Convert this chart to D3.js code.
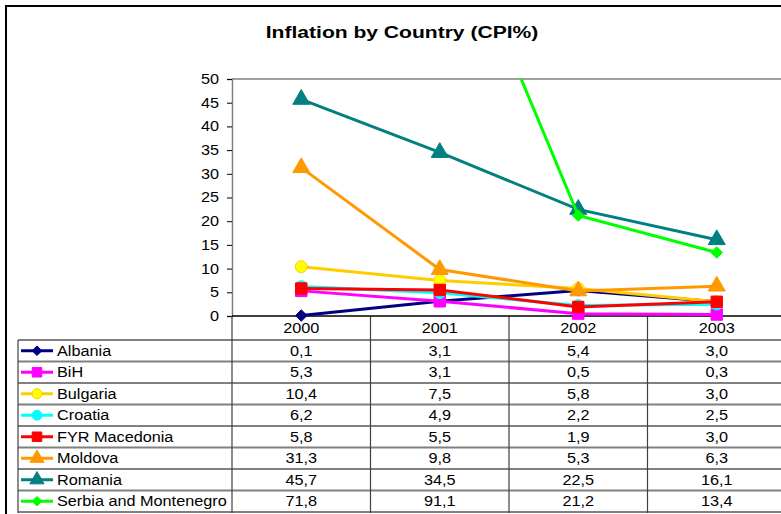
<!DOCTYPE html>
<html>
<head>
<meta charset="utf-8">
<script src="https://cdn.jsdelivr.net/npm/d3@7"></script>
<style>
  body { margin: 0; background: #fff; }
  svg { display: block; font-family: Arial, "Liberation Sans", sans-serif; }
</style>
</head>
<body>
<script>
// data
var years = ['2000', '2001', '2002', '2003'];
var countries = ['Albania', 'BiH', 'Bulgaria', 'Croatia', 'FYR Macedonia', 'Moldova', 'Romania', 'Serbia and Montenegro'];
var albania = [0.1, 3.1, 5.4, 3.0];
var bih = [5.3, 3.1, 0.5, 0.3];
var bulgaria = [10.4, 7.5, 5.8, 3.0];
var croatia = [6.2, 4.9, 2.2, 2.5];
var macedonia = [5.8, 5.5, 1.9, 3.0];
var moldova = [31.3, 9.8, 5.3, 6.3];
var romania = [45.7, 34.5, 22.5, 16.1];
var serbia = [71.8, 91.1, 21.2, 13.4];
var yTicks = [0, 5, 10, 15, 20, 25, 30, 35, 40, 45, 50];

var seriesValues = [albania, bih, bulgaria, croatia, macedonia, moldova, romania, serbia];
var lineColor = ['#000080', '#ff00ff', '#ffcc00', '#00ffff', '#ff0000', '#ff9900', '#008080', '#00ff00'];
var markFill = ['#000080', '#ff00ff', '#ffff00', '#00ffff', '#ff0000', '#ff9900', '#008080', '#00ff00'];
var markShape = ['diamond', 'square', 'circle', 'circle', 'square', 'triangle', 'triangle', 'diamond'];

var series = countries.map(function (c, i) {
    return { name: c, values: seriesValues[i], color: lineColor[i], fill: markFill[i], shape: markShape[i] };
});

var W = 781, H = 514;
var SX = 1.16; // the original font renders wider than Arial
var svg = d3.select('body').append('svg')
    .attr('width', W)
    .attr('height', H);

function place(sel, fx, fy, sx) {
    sel.attr('transform', function (d, i) {
        return 'translate(' + fx(d, i) + ',' + fy(d, i) + ') scale(' + (sx || SX) + ',1)';
    });
}

// outer frame (runs off the right/bottom edge)
svg.append('rect')
    .attr('x', 6).attr('y', 6)
    .attr('width', 820).attr('height', 540)
    .attr('fill', 'none')
    .attr('stroke', '#000')
    .attr('stroke-width', 2);

svg.append('text')
    .attr('text-anchor', 'middle')
    .style('font-size', '17px')
    .style('font-weight', 'bold')
    .text('Inflation by Country (CPI%)')
    .call(place, function () { return 402; }, function () { return 38; }, 1.24);

var x = d3.scaleBand().domain(years).range([232, 786]);
var y = d3.scaleLinear().domain([0, 50]).range([316, 79]);

// top border of the plot area
svg.append('line')
    .attr('x1', 232).attr('x2', W)
    .attr('y1', y(50)).attr('y2', y(50))
    .attr('stroke', '#a0a0a0')
    .attr('stroke-width', 2);

// y axis
var yAxis = svg.append('g')
    .attr('transform', 'translate(232,0)')
    .call(d3.axisLeft(y).tickValues(yTicks).tickSize(5).tickPadding(0));
yAxis.select('.domain').attr('stroke', '#808080').attr('stroke-width', 1.5);
yAxis.selectAll('.tick line').attr('stroke', '#000');
yAxis.selectAll('text')
    .style('font-size', '14px')
    .style('font-family', 'Arial, "Liberation Sans", sans-serif')
    .attr('fill', '#000')
    .attr('x', 0)
    .attr('transform', 'translate(-13,0) scale(' + SX + ',1)');

// data table
var rows = d3.scaleBand().domain(countries).range([340, 512]);
var table = svg.append('g');

// horizontal rules
table.selectAll('line.h')
    .data(countries.concat(['end']))
    .enter().append('line')
    .attr('class', 'h')
    .attr('x1', 18).attr('x2', W)
    .attr('y1', function (d, i) { return 340 + i * rows.bandwidth(); })
    .attr('y2', function (d, i) { return 340 + i * rows.bandwidth(); })
    .attr('stroke', '#808080')
    .attr('stroke-width', 2);

// vertical rules
table.selectAll('line.v')
    .data(years)
    .enter().append('line')
    .attr('class', 'v')
    .attr('x1', function (d) { return x(d); })
    .attr('x2', function (d) { return x(d); })
    .attr('y1', 316).attr('y2', 513)
    .attr('stroke', '#404040')
    .attr('stroke-width', 1.2);
table.append('line')
    .attr('x1', 18).attr('x2', 18)
    .attr('y1', 340).attr('y2', 513)
    .attr('stroke', '#404040')
    .attr('stroke-width', 1.2);

// x axis line
svg.append('line')
    .attr('x1', 232).attr('x2', W)
    .attr('y1', 316).attr('y2', 316)
    .attr('stroke', '#000')
    .attr('stroke-width', 1.5);

// year headers
table.selectAll('text.year')
    .data(years)
    .enter().append('text')
    .attr('class', 'year')
    .attr('text-anchor', 'middle')
    .style('font-size', '14px')
    .text(function (d) { return d; })
    .call(place, function (d) { return x(d) + x.bandwidth() / 2; }, function () { return 333; });

var fmt = function (v) { return v.toFixed(1).replace('.', ','); };

var rowG = table.selectAll('g.row')
    .data(series)
    .enter().append('g')
    .attr('class', 'row')
    .attr('transform', function (d) { return 'translate(0,' + (rows(d.name) + rows.bandwidth() / 2) + ')'; });

rowG.append('line')
    .attr('x1', 21).attr('x2', 53)
    .attr('stroke', function (d) { return d.color; })
    .attr('stroke-width', 3);

rowG.append('text')
    .style('font-size', '14px')
    .text(function (d) { return d.name; })
    .call(place, function () { return 57; }, function () { return 5; });

rowG.selectAll('text.val')
    .data(function (d) { return d.values; })
    .enter().append('text')
    .attr('class', 'val')
    .attr('text-anchor', 'middle')
    .style('font-size', '14px')
    .text(function (d) { return fmt(d); })
    .call(place, function (d, i) { return x(years[i]) + x.bandwidth() / 2; }, function () { return 5; });

function symbolFor(shape, big) {
    var k = big ? 1 : 0.7;
    if (shape === 'diamond') return d3.symbol().type(d3.symbolDiamond2 || d3.symbolDiamond).size(85 * k)();
    if (shape === 'square') return d3.symbol().type(d3.symbolSquare).size(130 * k)();
    if (shape === 'circle') return d3.symbol().type(d3.symbolCircle).size(110 * k)();
    return d3.symbol().type(d3.symbolTriangle).size(125 * k)();
}

rowG.append('path')
    .attr('transform', 'translate(37,0)')
    .attr('d', function (d) { return symbolFor(d.shape, false); })
    .attr('fill', function (d) { return d.fill; })
    .attr('stroke', function (d) { return d.color; })
    .attr('stroke-width', 1);

// lines
svg.append('clipPath').attr('id', 'plotclip')
    .append('rect')
    .attr('x', 225).attr('y', y(50))
    .attr('width', 600).attr('height', 260);

var plot = svg.append('g').attr('clip-path', 'url(#plotclip)');
var line = d3.line()
    .x(function (d, i) { return x(years[i]) + x.bandwidth() / 2; })
    .y(function (d) { return y(d); });

var sg = plot.selectAll('g.series')
    .data(series)
    .enter().append('g')
    .attr('class', 'series');

sg.append('path')
    .attr('d', function (d) { return line(d.values); })
    .attr('fill', 'none')
    .attr('stroke', function (d) { return d.color; })
    .attr('stroke-width', 3);

sg.selectAll('path.mark')
    .data(function (d) { return d.values.map(function (v, i) { return { v: v, i: i, s: d }; }); })
    .enter().append('path')
    .attr('class', 'mark')
    .attr('transform', function (d) {
        return 'translate(' + (x(years[d.i]) + x.bandwidth() / 2) + ',' + y(d.v) + ')';
    })
    .attr('d', function (d) { return symbolFor(d.s.shape, true); })
    .attr('fill', function (d) { return d.s.fill; })
    .attr('stroke', function (d) { return d.s.color; })
    .attr('stroke-width', 1);
</script>
</body>
</html>
